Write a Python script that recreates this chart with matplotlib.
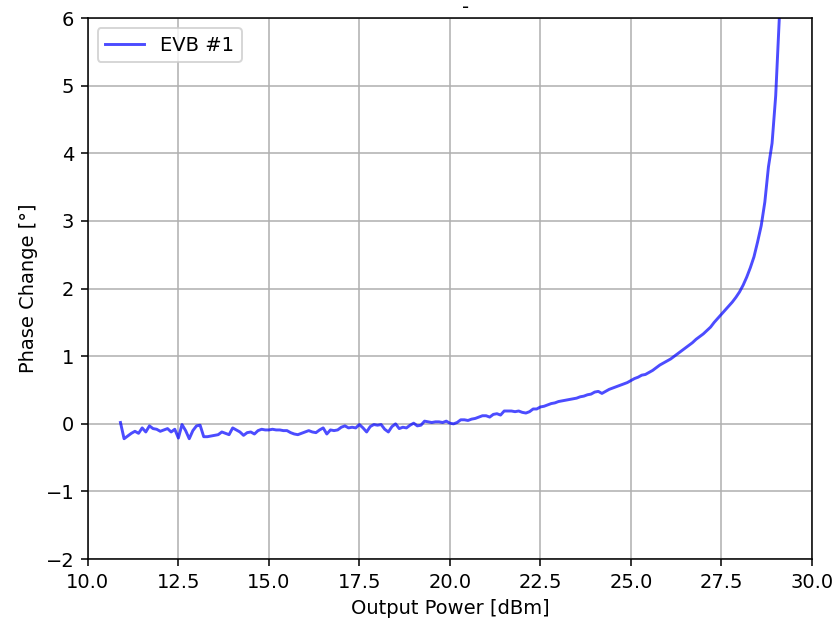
import matplotlib
matplotlib.use("Agg")
import matplotlib.pyplot as plt

output_power = [
    10.9, 11.0, 11.1, 11.2, 11.3, 11.4, 11.5, 11.6, 11.7, 11.8, 11.9, 12.0,
    12.1, 12.2, 12.3, 12.4, 12.5, 12.6, 12.7, 12.8, 12.9, 13.0, 13.1, 13.2,
    13.3, 13.4, 13.5, 13.6, 13.7, 13.8, 13.9, 14.0, 14.1, 14.2, 14.3, 14.4,
    14.5, 14.6, 14.7, 14.8, 14.9, 15.0,
    15.1, 15.2, 15.3, 15.4, 15.5, 15.6, 15.7, 15.8, 15.9, 16.0, 16.1, 16.2,
    16.3, 16.4, 16.5, 16.6, 16.7, 16.8, 16.9, 17.0, 17.1, 17.2, 17.3, 17.4,
    17.5, 17.6, 17.7, 17.8, 17.9, 18.0, 18.1, 18.2, 18.3, 18.4, 18.5, 18.6,
    18.7, 18.8, 18.9, 19.0, 19.1, 19.2, 19.3, 19.4, 19.5, 19.6, 19.7, 19.8,
    19.9, 20.0, 20.1, 20.2, 20.3, 20.4, 20.5, 20.6, 20.7, 20.8, 20.9, 21.0,
    21.1, 21.2, 21.3, 21.4, 21.5, 21.6, 21.7, 21.8, 21.9, 22.0, 22.1, 22.2,
    22.3, 22.4, 22.5, 22.6, 22.7, 22.8, 22.9, 23.0, 23.1, 23.2, 23.3, 23.4,
    23.5, 23.6, 23.7, 23.8, 23.9, 24.0, 24.1, 24.2, 24.3, 24.4, 24.5, 24.6,
    24.7, 24.8, 24.9, 25.0, 25.1, 25.2, 25.3, 25.4, 25.5, 25.6, 25.7, 25.8,
    25.9, 26.0, 26.1, 26.2, 26.3, 26.4, 26.5, 26.6, 26.7, 26.8, 26.9, 27.0,
    27.1, 27.2, 27.3, 27.4, 27.5, 27.6, 27.7, 27.8, 27.9, 28.0, 28.1, 28.2,
    28.3, 28.4, 28.5, 28.6, 28.7, 28.8, 28.9, 29.0, 29.1, 29.15,
]

phase_change = [
    0.02, -0.22, -0.18, -0.14, -0.11, -0.14, -0.06, -0.12, -0.03, -0.07, -0.08, -0.11,
    -0.09, -0.07, -0.12, -0.08, -0.21, -0.01, -0.10, -0.22, -0.10, -0.03, -0.02, -0.19,
    -0.19, -0.18, -0.17, -0.16, -0.12, -0.14, -0.16, -0.06, -0.09, -0.12, -0.17, -0.13,
    -0.12, -0.15, -0.10, -0.08, -0.09, -0.09,
    -0.08, -0.09, -0.09, -0.10, -0.10, -0.13, -0.15, -0.16, -0.14, -0.12, -0.10, -0.12,
    -0.13, -0.09, -0.06, -0.15, -0.09, -0.10, -0.09, -0.05, -0.03, -0.06, -0.05, -0.06,
    -0.01, -0.06, -0.12, -0.04, -0.01, -0.02, -0.01, -0.08, -0.12, -0.04, 0.00, -0.07,
    -0.05, -0.06, -0.02, 0.01, -0.03, -0.02, 0.04, 0.03, 0.02, 0.03, 0.03, 0.02,
    0.04, 0.01, 0.00, 0.02, 0.06, 0.06, 0.05, 0.07, 0.08, 0.10, 0.12, 0.12,
    0.10, 0.14, 0.15, 0.13, 0.19, 0.19, 0.19, 0.18, 0.19, 0.17, 0.16, 0.18,
    0.22, 0.22, 0.25, 0.26, 0.28, 0.30, 0.31, 0.33, 0.34, 0.35, 0.36, 0.37,
    0.38, 0.40, 0.41, 0.43, 0.44, 0.47, 0.48, 0.45, 0.48, 0.51, 0.53, 0.55,
    0.57, 0.59, 0.61, 0.64, 0.67, 0.69, 0.72, 0.73, 0.76, 0.79, 0.83, 0.87,
    0.90, 0.93, 0.96, 1.00, 1.04, 1.08, 1.12, 1.16, 1.20, 1.25, 1.29, 1.33,
    1.38, 1.43, 1.50, 1.56, 1.62, 1.68, 1.74, 1.80, 1.87, 1.95, 2.05, 2.17,
    2.31, 2.47, 2.69, 2.93, 3.28, 3.80, 4.15, 4.85, 6.00, 6.50,
]

series_label = "EVB #1"

DPI = 140
fig = plt.figure(figsize=(837 / DPI, 624 / DPI), dpi=DPI)
ax = fig.add_axes([0.105, 0.104, 0.865, 0.867])
ax.plot(output_power, phase_change, color="blue", alpha=0.7, label=series_label)
ax.set_xlim(10, 30)
ax.set_ylim(-2, 6)
ax.set_xticks([10.0, 12.5, 15.0, 17.5, 20.0, 22.5, 25.0, 27.5, 30.0])
ax.grid(True)
ax.set_xlabel("Output Power [dBm]")
ax.set_ylabel("Phase Change [°]")
ax.set_title("-", x=0.522, pad=2.5, fontsize=10)
ax.legend(loc="upper left")
fig.savefig("out.png", dpi=DPI)
